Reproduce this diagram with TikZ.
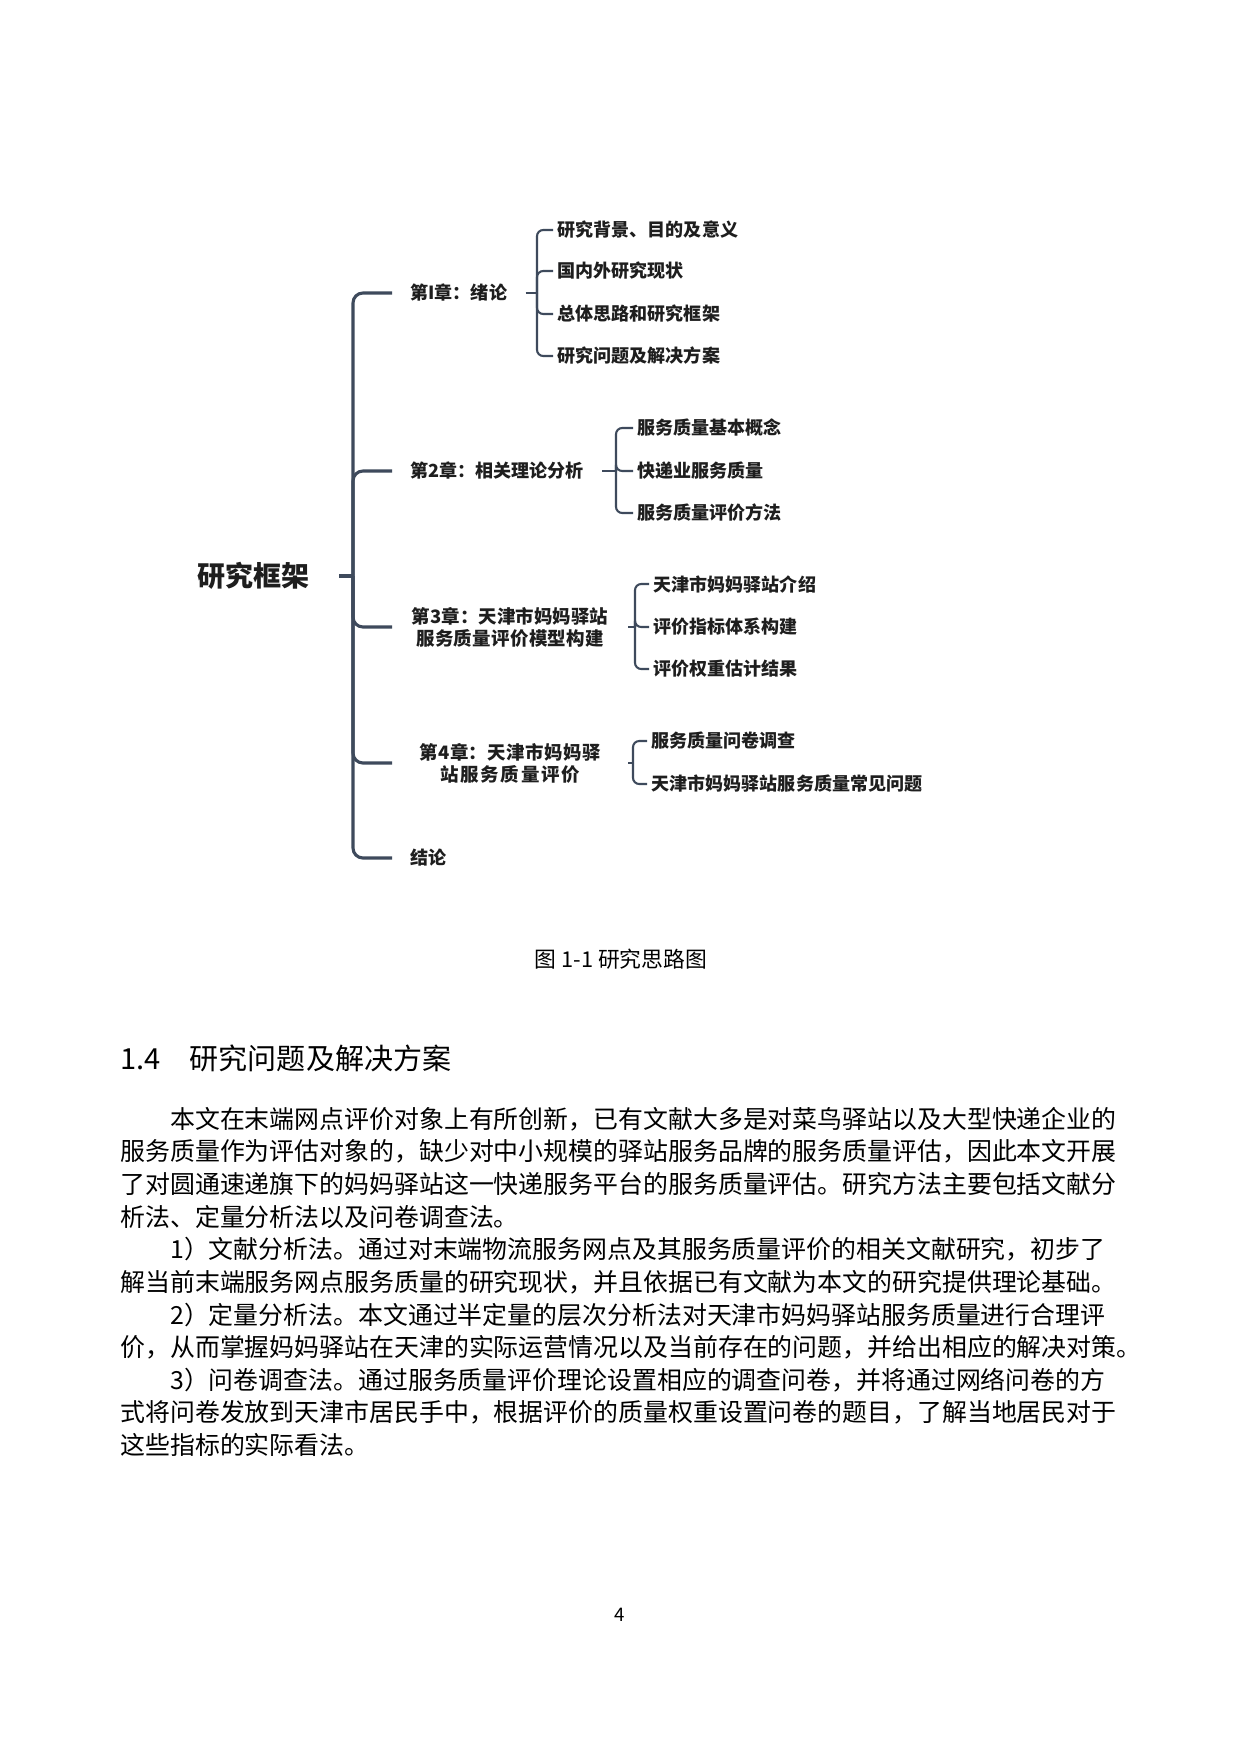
\documentclass[tikz,border=0pt]{standalone}
\usepackage{fontspec}
\setmainfont{Noto Sans CJK SC}
\usetikzlibrary{positioning,calc}

\XeTeXlinebreaklocale "zh"
\XeTeXlinebreakskip=0pt plus 1pt minus 0.5pt

\definecolor{linegray}{HTML}{3E4A5C}
\definecolor{inkgray}{HTML}{1E1E1E}

\newcommand\jline[2][483pt]{\makebox[#1][s]{#2}}
\newcommand\ind{\hspace*{2em}}

\tikzset{
	trunk/.style={draw=linegray,line width=1.5pt,rounded corners=4.8pt},
	twig/.style={draw=linegray,line width=1pt,rounded corners=3pt},
	rootlabel/.style={font=\bfseries\fontsize{13.5}{16}\selectfont,text=inkgray,anchor=east,inner xsep=14pt,inner ysep=0pt},
	chap/.style={font=\bfseries\fontsize{8.7}{10.5}\selectfont,text=inkgray,anchor=west,inner xsep=8.7pt,inner ysep=0pt},
	wide/.style={font=\bfseries\fontsize{8.9}{10.6}\selectfont,text width=96pt,align=center},
	leaf/.style={font=\bfseries\fontsize{8.7}{10.5}\selectfont,text=inkgray,anchor=west,inner xsep=2pt,inner ysep=0pt},
	bodyline/.style={anchor=west,inner sep=0pt,font=\fontsize{12}{15}\selectfont},
}

\begin{document}
\begin{tikzpicture}[x=0.16935mm,y=-0.16935mm]
\useasboundingbox[fill=white] (0,0) rectangle (1240,1754);

% framework tree
\node[rootlabel] (root) at (339,576) {研究框架};
\coordinate (hub) at (353,576);
\node[chap] (ch1) at (392,293) {第I章：绪论};
\node[chap] (ch2) at (392,471) {第2章：相关理论分析};
\node[chap,wide] (ch3) at (392,627) {第3章：天津市妈妈驿站\\服务质量评价模型构建};
\node[chap,wide] (ch4) at (392,763) {第4章：天津市妈妈驿\\站服务质量评价};
\node[chap] (ch5) at (392,858) {结论};

\draw[trunk] (root.east) -- (hub);
\foreach \c in {ch1,ch2,ch3,ch4,ch5}{
	\draw[trunk] (hub) |- (\c.west);
}

\coordinate (f1) at (537,293);
\coordinate (f2) at (616,471);
\coordinate (f3) at (635,627);
\coordinate (f4) at (633,763);
\foreach \c/\f in {ch1/f1,ch2/f2,ch3/f3,ch4/f4}{
	\draw[twig] (\c.east) -- (\f);
}

\foreach \y/\t [count=\i] in {230/研究背景、目的及意义,271/国内外研究现状,314/总体思路和研究框架,356/研究问题及解决方案}{
	\node[leaf] (a\i) at (553,\y) {\t};
	\draw[twig] (f1) |- (a\i.west);
}
\foreach \y/\t [count=\i] in {428/服务质量基本概念,471/快递业服务质量,513/服务质量评价方法}{
	\node[leaf] (b\i) at (633,\y) {\t};
	\draw[twig] (f2) |- (b\i.west);
}
\foreach \y/\t [count=\i] in {584/天津市妈妈驿站介绍,627/评价指标体系构建,669/评价权重估计结果}{
	\node[leaf] (c\i) at (649,\y) {\t};
	\draw[twig] (f3) |- (c\i.west);
}
\foreach \y/\t [count=\i] in {741/服务质量问卷调查,784/天津市妈妈驿站服务质量常见问题}{
	\node[leaf] (d\i) at (647,\y) {\t};
	\draw[twig] (f4) |- (d\i.west);
}

% caption, heading and text
\node[font=\fontsize{10.5}{12}\selectfont] (cap) at (621,959) {图 1-1 研究思路图};
\node[anchor=west,inner sep=0pt,font=\fontsize{14}{17}\selectfont] (sec) at (120,1058) {1.4\hspace{14pt}研究问题及解决方案};

\foreach \t [count=\k from 0] in {
	\jline{\ind 本文在末端网点评价对象上有所创新，已有文献大多是对菜鸟驿站以及大型快递企业的},
	\jline{服务质量作为评估对象的，缺少对中小规模的驿站服务品牌的服务质量评估，因此本文开展},
	\jline{了对圆通速递旗下的妈妈驿站这一快递服务平台的服务质量评估。研究方法主要包括文献分},
	析法、定量分析法以及问卷调查法。,
	\jline{\ind 1）文献分析法。通过对末端物流服务网点及其服务质量评价的相关文献研究，初步了},
	\jline{解当前末端服务网点服务质量的研究现状，并且依据已有文献为本文的研究提供理论基础。},
	\jline{\ind 2）定量分析法。本文通过半定量的层次分析法对天津市妈妈驿站服务质量进行合理评},
	\jline[489pt]{价，从而掌握妈妈驿站在天津的实际运营情况以及当前存在的问题，并给出相应的解决对策。},
	\jline{\ind 3）问卷调查法。通过服务质量评价理论设置相应的调查问卷，并将通过网络问卷的方},
	\jline{式将问卷发放到天津市居民手中，根据评价的质量权重设置问卷的题目，了解当地居民对于},
	这些指标的实际看法。}{
	\node[bodyline] (l\k) at (120,{1119+32.6*\k}) {\t};
}

\node[font=\fontsize{9}{11}\selectfont] (pg) at (620,1615) {4};

\end{tikzpicture}
\end{document}
